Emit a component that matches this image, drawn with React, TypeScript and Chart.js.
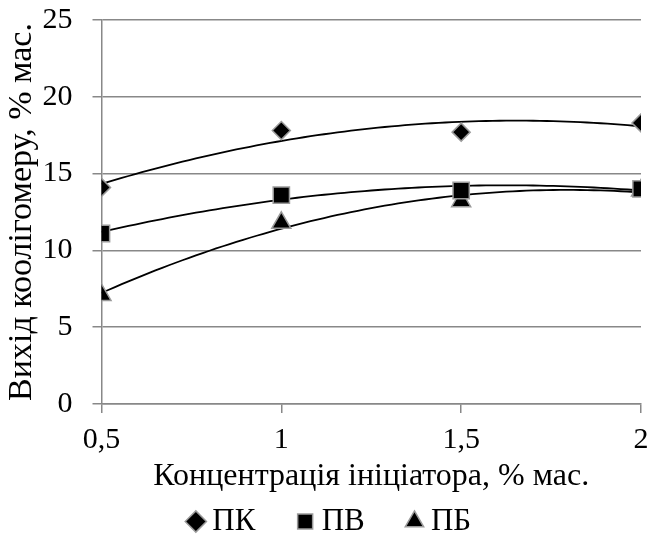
import React, { useEffect, useRef } from 'react';
import { Chart, registerables } from 'chart.js';

Chart.register(...registerables);

const concentrations = [0.5, 1, 1.5, 2];
const seriesNames = ['ПК', 'ПВ', 'ПБ'];
const valuesPK = [14.1, 17.8, 17.7, 18.3];
const valuesPV = [11.1, 13.6, 13.9, 14.0];
const valuesPB = [7.1, 11.8, 13.2, 13.9];
const yTickValues = [0, 5, 10, 15, 20, 25];
const pointStyles = ['rectRot', 'rect', 'triangle'];
const pointRadii = [9, 11.5, 11];
const xTitle = 'Концентрація ініціатора, % мас.';
const yTitle = 'Вихід коолігомеру, % мас.';

const FONT = "'Liberation Serif', 'Times New Roman', serif";
const NBSP = '\u00a0';

function quadFit(xs: number[], ys: number[]) {
  // least squares y = a + b x + c x^2 (Excel polynomial trendline, order 2)
  let s0 = 0, s1 = 0, s2 = 0, s3 = 0, s4 = 0, t0 = 0, t1 = 0, t2 = 0;
  for (let i = 0; i < xs.length; i++) {
    const x = xs[i], y = ys[i];
    s0 += 1; s1 += x; s2 += x * x; s3 += x * x * x; s4 += x * x * x * x;
    t0 += y; t1 += x * y; t2 += x * x * y;
  }
  const M = [
    [s0, s1, s2, t0],
    [s1, s2, s3, t1],
    [s2, s3, s4, t2],
  ];
  for (let c = 0; c < 3; c++) {
    let p = c;
    for (let r = c + 1; r < 3; r++) if (Math.abs(M[r][c]) > Math.abs(M[p][c])) p = r;
    [M[c], M[p]] = [M[p], M[c]];
    for (let r = 0; r < 3; r++) {
      if (r === c) continue;
      const f = M[r][c] / M[c][c];
      for (let k = c; k < 4; k++) M[r][k] -= f * M[c][k];
    }
  }
  const a = M[0][3] / M[0][0], b = M[1][3] / M[1][1], c2 = M[2][3] / M[2][2];
  return (x: number) => a + b * x + c2 * x * x;
}

function trendPoints(ys: number[]) {
  const f = quadFit(concentrations, ys);
  const lo = concentrations[0];
  const hi = concentrations[concentrations.length - 1];
  const pts: { x: number; y: number }[] = [];
  const n = 80;
  for (let i = 0; i <= n; i++) {
    const x = lo + ((hi - lo) * i) / n;
    pts.push({ x, y: f(x) });
  }
  return pts;
}

export default function App() {
  const ref = useRef<HTMLCanvasElement | null>(null);

  useEffect(() => {
    if (!ref.current) return;
    const all = [valuesPK, valuesPV, valuesPB];
    const markerSets = all.map((vals, i) => ({
      label: seriesNames[i],
      data: concentrations.map((x, j) => ({ x, y: vals[j] })),
      showLine: false,
      pointStyle: pointStyles[i],
      pointRadius: pointRadii[i],
      pointHoverRadius: pointRadii[i],
      backgroundColor: '#000000',
      borderColor: '#9a9a9a',
      borderWidth: 1.5,
      order: 1,
    }));
    const trendSets = all.map((vals, i) => ({
      label: seriesNames[i] + ' trend',
      data: trendPoints(vals),
      showLine: true,
      pointRadius: 0,
      borderColor: '#000000',
      backgroundColor: '#000000',
      borderWidth: 1.8,
      tension: 0,
      order: 2,
    }));

    const chart = new Chart(ref.current, {
      type: 'scatter',
      data: { datasets: [...markerSets, ...trendSets] as any },
      options: {
        animation: false,
        responsive: false,
        layout: { padding: { top: 0, right: 0, left: 12, bottom: 0 } },
        plugins: {
          tooltip: { enabled: false },
          legend: {
            position: 'bottom',
            labels: {
              generateLabels: (ch: any) => {
                const base = Chart.defaults.plugins.legend.labels.generateLabels(ch);
                return base
                  .filter((it: any) => it.datasetIndex < 3)
                  .map((it: any, idx: number) => ({
                    ...it,
                    text: idx < 2 ? it.text + NBSP.repeat(5) : it.text,
                  }));
              },
              usePointStyle: true,
              boxWidth: 2,
              boxHeight: 15,
              padding: 10,
              color: '#000000',
              font: { family: FONT, size: 31 },
            },
          },
        },
        scales: {
          x: {
            type: 'linear',
            min: 0.5,
            max: 2,
            afterBuildTicks: (axis: any) => {
              axis.ticks = concentrations.map((v) => ({ value: v }));
            },
            afterFit: (axis: any) => {
              axis.paddingRight = 11;
            },
            ticks: {
              color: '#000000',
              font: { family: FONT, size: 30, lineHeight: 55 / 30 },
              padding: 0,
              maxRotation: 0,
              callback: (v: any) => String(v).replace('.', ','),
            },
            grid: {
              drawOnChartArea: false,
              drawTicks: true,
              tickLength: 9,
              color: '#888888',
              lineWidth: 1.5,
            },
            border: { display: true, color: '#888888', width: 1.5 },
            title: {
              display: true,
              text: xTitle,
              color: '#000000',
              font: { family: FONT, size: 32, lineHeight: 17 / 32 },
              padding: { top: 0, bottom: 11 },
            },
          },
          y: {
            type: 'linear',
            min: 0,
            max: 25,
            afterBuildTicks: (axis: any) => {
              axis.ticks = yTickValues.map((v) => ({ value: v }));
            },
            ticks: {
              color: '#000000',
              font: { family: FONT, size: 30, lineHeight: 1 },
              padding: 5,
              callback: (v: any) => String(v) + NBSP + NBSP,
            },
            grid: {
              drawTicks: true,
              tickLength: 9,
              color: '#888888',
              lineWidth: 1.5,
            },
            border: { display: true, color: '#888888', width: 1.5 },
            title: {
              display: true,
              text: yTitle,
              color: '#000000',
              font: { family: FONT, size: 34, lineHeight: 20 / 34 },
              padding: { top: 0, bottom: 5.5 },
            },
          },
        },
      },
    });
    return () => chart.destroy();
  }, []);

  return (
    <div style={{ position: 'fixed', left: 0, top: 0, width: 654, height: 547 }}>
      <canvas ref={ref} width={654} height={547} />
    </div>
  );
}
